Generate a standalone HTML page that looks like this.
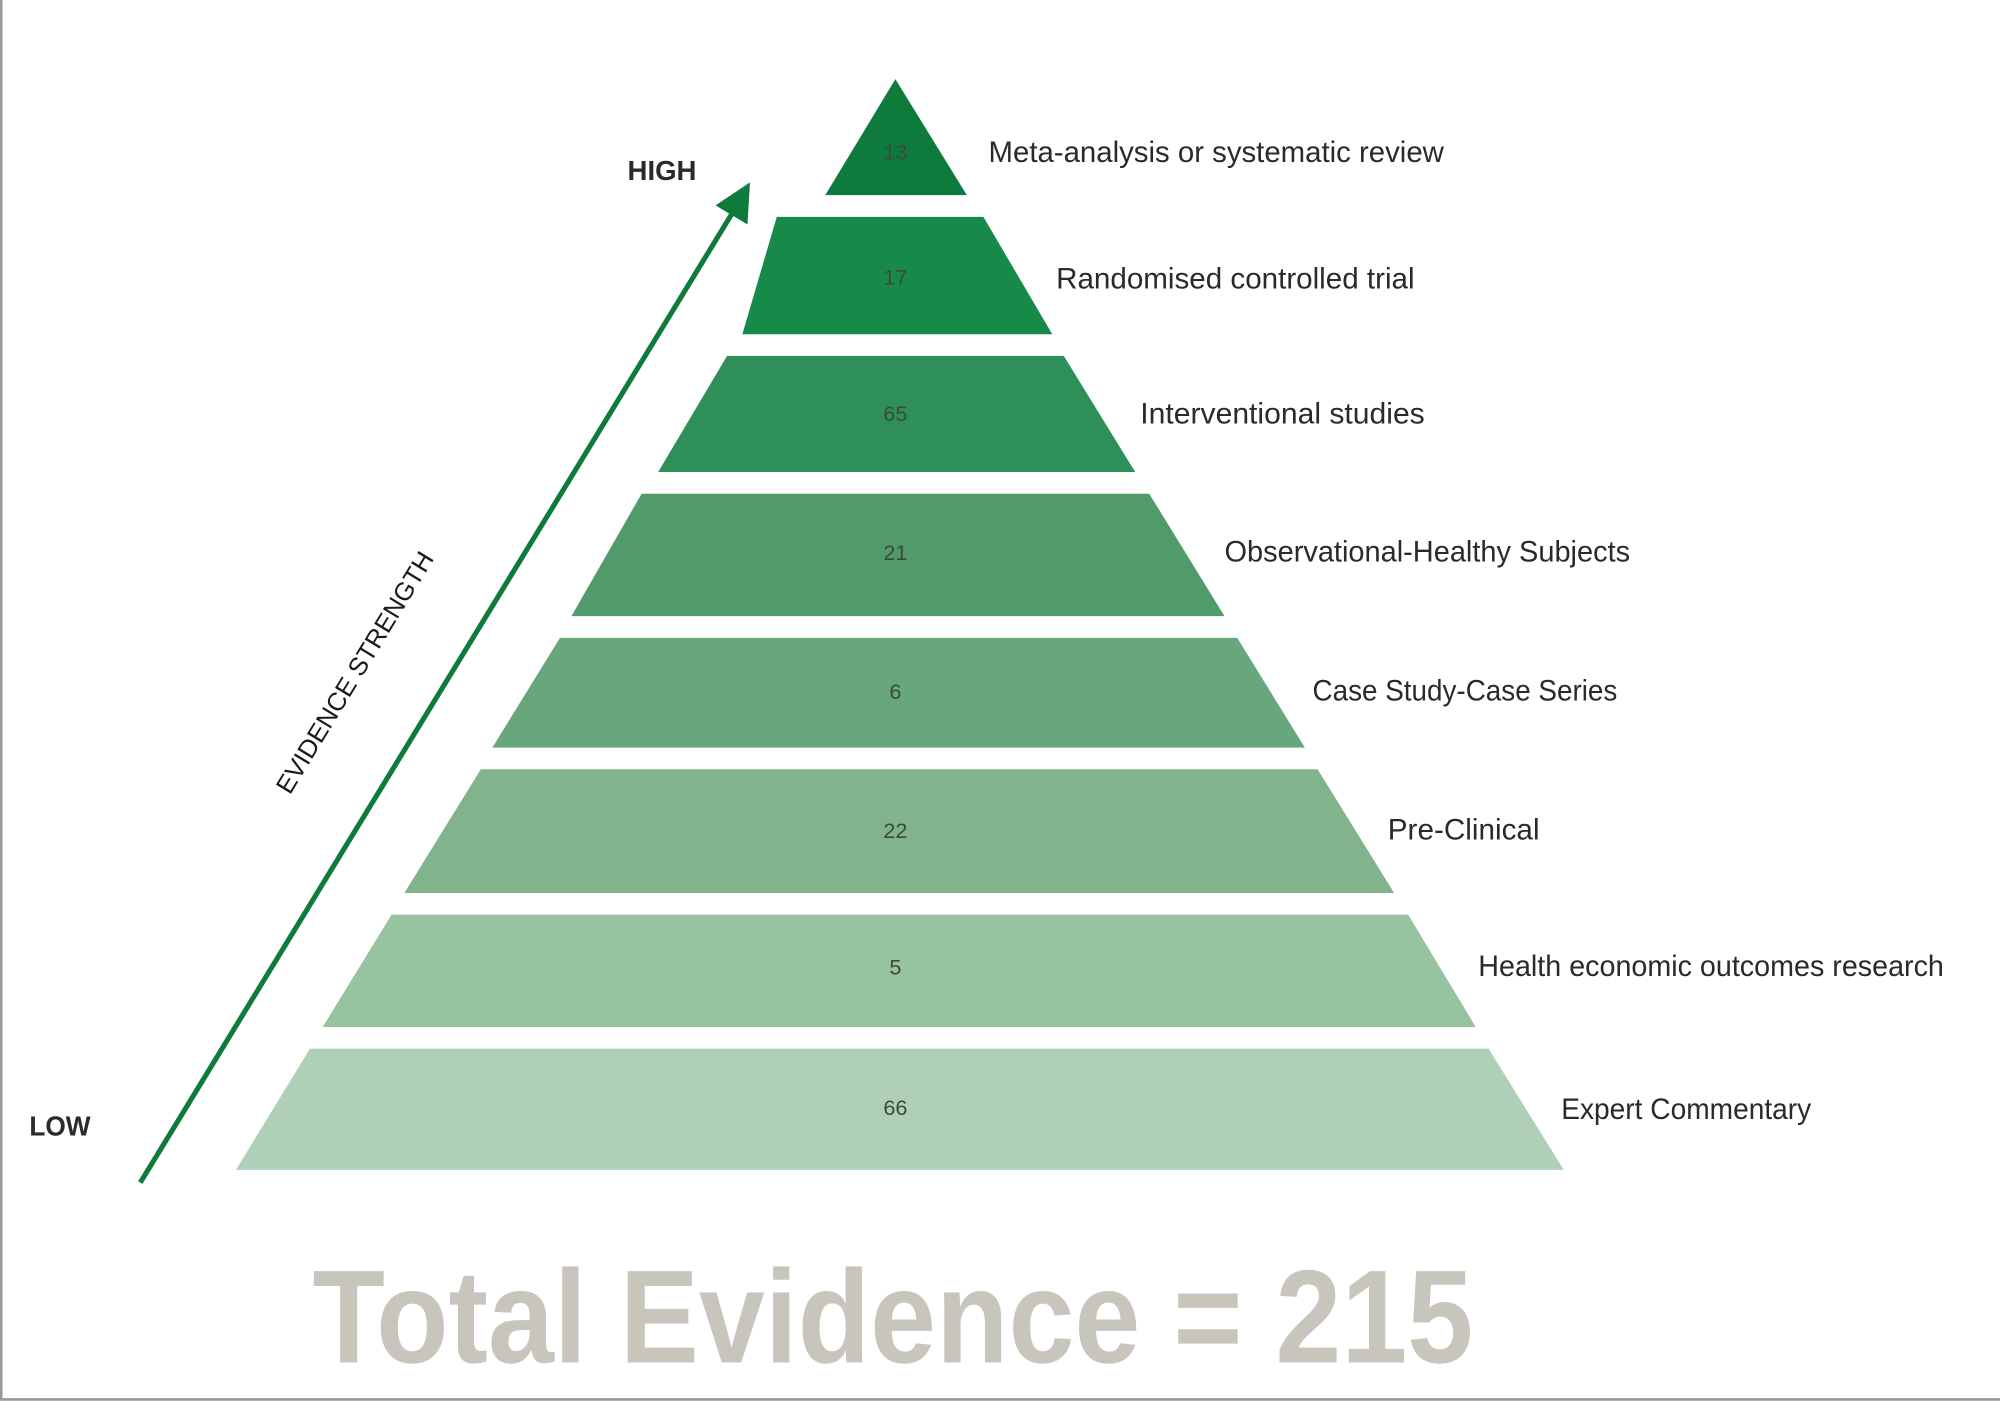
<!DOCTYPE html>
<html><head><meta charset="utf-8"><style>
html,body{margin:0;padding:0;background:#fff;}
svg{display:block;}
text{font-family:"Liberation Sans Narrow","Liberation Sans",sans-serif;}
</style></head><body>
<svg width="2000" height="1402" viewBox="0 0 1568 1099" preserveAspectRatio="none" xmlns="http://www.w3.org/2000/svg">
<rect x="0" y="0" width="1568" height="1099" fill="#fff"/>
<line x1="1" y1="0" x2="1" y2="1097" stroke="#9a9a9a" stroke-width="2"/>
<line x1="0" y1="1097" x2="1568" y2="1097" stroke="#9a9a9a" stroke-width="2"/>
<polygon points="702,62 758,153 647,153" fill="#0e7a3c"/>
<polygon points="609,170 771,170 825,262 582,262" fill="#178a4a"/>
<polygon points="570,279 834,279 890,370 516,370" fill="#2f8f58"/>
<polygon points="503,387 901,387 960,483 448,483" fill="#519b6b"/>
<polygon points="439,500 970,500 1023,586 386,586" fill="#67a77b"/>
<polygon points="377,603 1033,603 1093,700 317,700" fill="#81b48d"/>
<polygon points="307,717 1104,717 1157,805 253,805" fill="#98c3a1"/>
<polygon points="243,822 1167,822 1226,917 185,917" fill="#afd0b6"/>
<g font-size="17" fill="#3a4a3e" text-anchor="middle">
<text x="702" y="125">13</text><text x="702" y="223">17</text><text x="702" y="330">65</text>
<text x="702" y="439">21</text><text x="702" y="548">6</text><text x="702" y="657">22</text>
<text x="702" y="764">5</text><text x="702" y="874">66</text>
</g>
<g font-size="23" fill="#2a2a2a" lengthAdjust="spacingAndGlyphs">
<text x="775" y="127" textLength="357" lengthAdjust="spacingAndGlyphs">Meta-analysis or systematic review</text>
<text x="828" y="226" textLength="281" lengthAdjust="spacingAndGlyphs">Randomised controlled trial</text>
<text x="894" y="332" textLength="223" lengthAdjust="spacingAndGlyphs">Interventional studies</text>
<text x="960" y="440" textLength="318" lengthAdjust="spacingAndGlyphs">Observational-Healthy Subjects</text>
<text x="1029" y="549" textLength="239" lengthAdjust="spacingAndGlyphs">Case Study-Case Series</text>
<text x="1088" y="658" textLength="119" lengthAdjust="spacingAndGlyphs">Pre-Clinical</text>
<text x="1159" y="765" textLength="365" lengthAdjust="spacingAndGlyphs">Health economic outcomes research</text>
<text x="1224" y="877" textLength="196" lengthAdjust="spacingAndGlyphs">Expert Commentary</text>
</g>
<line x1="110" y1="927" x2="576" y2="164" stroke="#0e7a3c" stroke-width="4"/>
<polygon points="588,143 586,176 561,161" fill="#0e7a3c"/>
<text x="492" y="141" font-size="22" font-weight="bold" fill="#2a2a2a" textLength="54" lengthAdjust="spacingAndGlyphs">HIGH</text>
<text x="23" y="890" font-size="22" font-weight="bold" fill="#2a2a2a" textLength="48" lengthAdjust="spacingAndGlyphs">LOW</text>
<text x="278" y="534" font-size="20" fill="#1a1a1a" text-anchor="middle" transform="rotate(-58.6 278 527)">EVIDENCE STRENGTH</text>
<text x="700" y="1068" font-size="104" font-weight="bold" fill="#c8c6bc" text-anchor="middle" textLength="910" lengthAdjust="spacingAndGlyphs">Total Evidence = 215</text>
</svg>
</body></html>
